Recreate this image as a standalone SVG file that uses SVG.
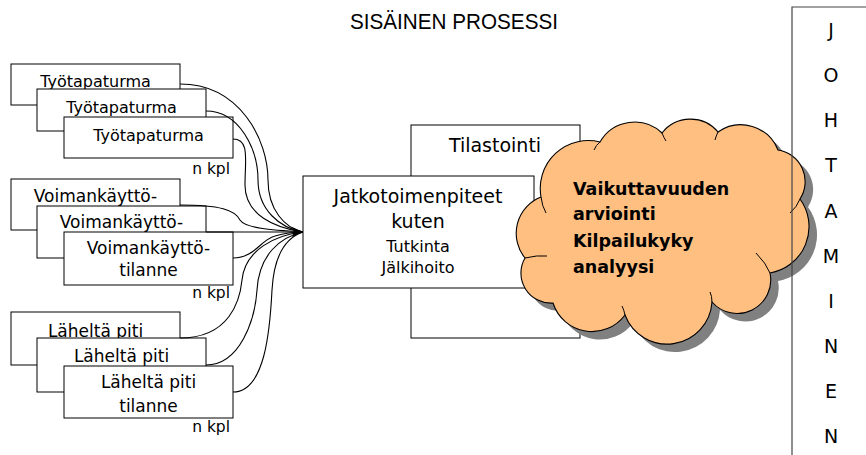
<svg xmlns="http://www.w3.org/2000/svg" width="866" height="455" viewBox="0 0 866 455">
<defs>
<style>
.box{fill:#fff;stroke:#000;stroke-width:1}
.t{font-family:"DejaVu Sans",Verdana,sans-serif;fill:#000;text-anchor:middle}
.a{font-size:16px}
.b{font-size:17px}
.c{font-size:19px}
.s{font-size:16px}
.k{font-family:"DejaVu Sans",sans-serif;font-size:15.5px;text-anchor:end}
.cl{font-family:"DejaVu Sans",Verdana,sans-serif;font-weight:bold;font-size:17.5px;fill:#000}
.con{fill:none;stroke:#000;stroke-width:1.1}
.v{font-family:"DejaVu Sans",sans-serif;font-size:19px;text-anchor:middle;fill:#000}
</style>
<marker id="arr" markerUnits="userSpaceOnUse" markerWidth="12" markerHeight="12" refX="11" refY="5" orient="auto" viewBox="0 0 12 10">
<path d="M0,0 L11,5 L0,10 L2,5 z" fill="#000"/>
</marker>
<path id="cloudShape" d="M525,258 A39,39 0 0 1 541,197 A48,48 0 0 1 600,142 A40,40 0 0 1 662,133 A36,36 0 0 1 718,132 A40,40 0 0 1 778,150 A32,32 0 0 1 800,199 A47,47 0 0 1 770,273 A33.5,33.5 0 0 1 712,302 A45,45 0 0 1 625,315 A41,41 0 0 1 553,303 A30,30 0 0 1 525,258 z"/>
</defs>
<rect width="866" height="455" fill="#fff"/>

<text id="title" x="454" y="29" font-family="Liberation Sans, Arial, sans-serif" font-size="22" text-anchor="middle" textLength="208" lengthAdjust="spacingAndGlyphs">SISÄINEN PROSESSI</text>

<g id="tyotapaturma">
<rect class="box" x="11" y="64" width="169" height="41"/>
<text class="t a" x="95.5" y="87">Työtapaturma</text>
<rect class="box" x="37" y="89" width="169" height="42"/>
<text class="t a" x="121.5" y="113">Työtapaturma</text>
<rect class="box" x="64" y="117" width="169" height="41"/>
<text class="t a" x="148.5" y="141">Työtapaturma</text>
<text class="k" x="230" y="174">n kpl</text>
</g>

<g id="voimankaytto">
<rect class="box" x="11" y="179" width="169" height="51"/>
<text class="t b" x="95.5" y="202">Voimankäyttö-</text>
<rect class="box" x="37" y="206" width="169" height="52"/>
<text class="t b" x="121.5" y="228">Voimankäyttö-</text>
<rect class="box" x="64" y="232" width="169" height="53"/>
<text class="t b" x="148.5" y="254">Voimankäyttö-</text>
<text class="t b" x="148.5" y="276">tilanne</text>
<text class="k" x="230" y="298">n kpl</text>
</g>

<g id="laheltapiti">
<rect class="box" x="11" y="312" width="169" height="53"/>
<text class="t b" x="95.5" y="337">Läheltä piti</text>
<rect class="box" x="37" y="338" width="169" height="54"/>
<text class="t b" x="121.5" y="362">Läheltä piti</text>
<rect class="box" x="64" y="366" width="169" height="52"/>
<text class="t b" x="148.5" y="388">Läheltä piti</text>
<text class="t b" x="148.5" y="412">tilanne</text>
<text class="k" x="230" y="432">n kpl</text>
</g>

<g id="connectors">
<path class="con" d="M180,84 C240,84 268,140 268,180 C268,210 285,228 303,232"/>
<path class="con" d="M206,111 C240,111 258,150 258,180 C258,210 280,228 303,232"/>
<path class="con" d="M233,139 C250,139 245,160 245,185 C245,215 275,228 303,232"/>
<path class="con" d="M180,205 C220,205 235,210 240,220 C245,228 270,230 303,232"/>
<path class="con" d="M206,232 L303,232" marker-end="url(#arr)"/>
<path class="con" d="M233,258 C255,258 260,240 275,236 C285,233 295,232 303,232"/>
<path class="con" d="M180,338 C230,338 240,300 242,280 C245,250 275,235 303,232"/>
<path class="con" d="M206,365 C240,365 255,320 257,290 C259,255 280,237 303,232"/>
<path class="con" d="M233,392 C265,392 270,330 272,290 C274,255 285,238 303,232"/>
</g>

<g id="tilastointi">
<rect class="box" x="411" y="125" width="169" height="213"/>
<text class="t c" x="495" y="152">Tilastointi</text>
</g>

<g id="jatkotoimenpiteet">
<rect class="box" x="303" y="176" width="231" height="112"/>
<text class="t c" x="418" y="203">Jatkotoimenpiteet</text>
<text class="t c" x="418" y="228">kuten</text>
<text class="t s" x="418" y="252">Tutkinta</text>
<text class="t s" x="418" y="273">Jälkihoito</text>
</g>

<g id="cloud">
<use href="#cloudShape" transform="translate(8,8)" fill="#808080"/>
<use href="#cloudShape" fill="#FFBF80" stroke="#000" stroke-width="1.1"/>
<path fill="none" stroke="#000" stroke-width="1" d="M541,197 q1,9 5,16 M600,142 q-4,3 -6,8 M662,133 q2,5 4,8 M718,132 q-2,4 -3,8 M800,199 q-3,8 -10,14 M770,273 q-4,-10 -14,-20 M712,302 q0,-6 -2,-10 M625,315 q-1,-5 -3,-9 M525,258 q12,-3 22,-2"/>
<text class="cl" x="573" y="195">Vaikuttavuuden</text>
<text class="cl" x="573" y="220">arviointi</text>
<text class="cl" x="573" y="247">Kilpailukyky</text>
<text class="cl" x="573" y="273">analyysi</text>
</g>

<g id="johtaminen">
<path d="M792,455 L792,7 L866,7" fill="none" stroke="#444" stroke-width="1.2"/>
<text class="v" x="831" y="37">J</text>
<text class="v" x="831" y="82">O</text>
<text class="v" x="831" y="127">H</text>
<text class="v" x="831" y="172">T</text>
<text class="v" x="831" y="218">A</text>
<text class="v" x="831" y="263">M</text>
<text class="v" x="831" y="308">I</text>
<text class="v" x="831" y="353">N</text>
<text class="v" x="831" y="398">E</text>
<text class="v" x="831" y="443">N</text>
</g>
</svg>
